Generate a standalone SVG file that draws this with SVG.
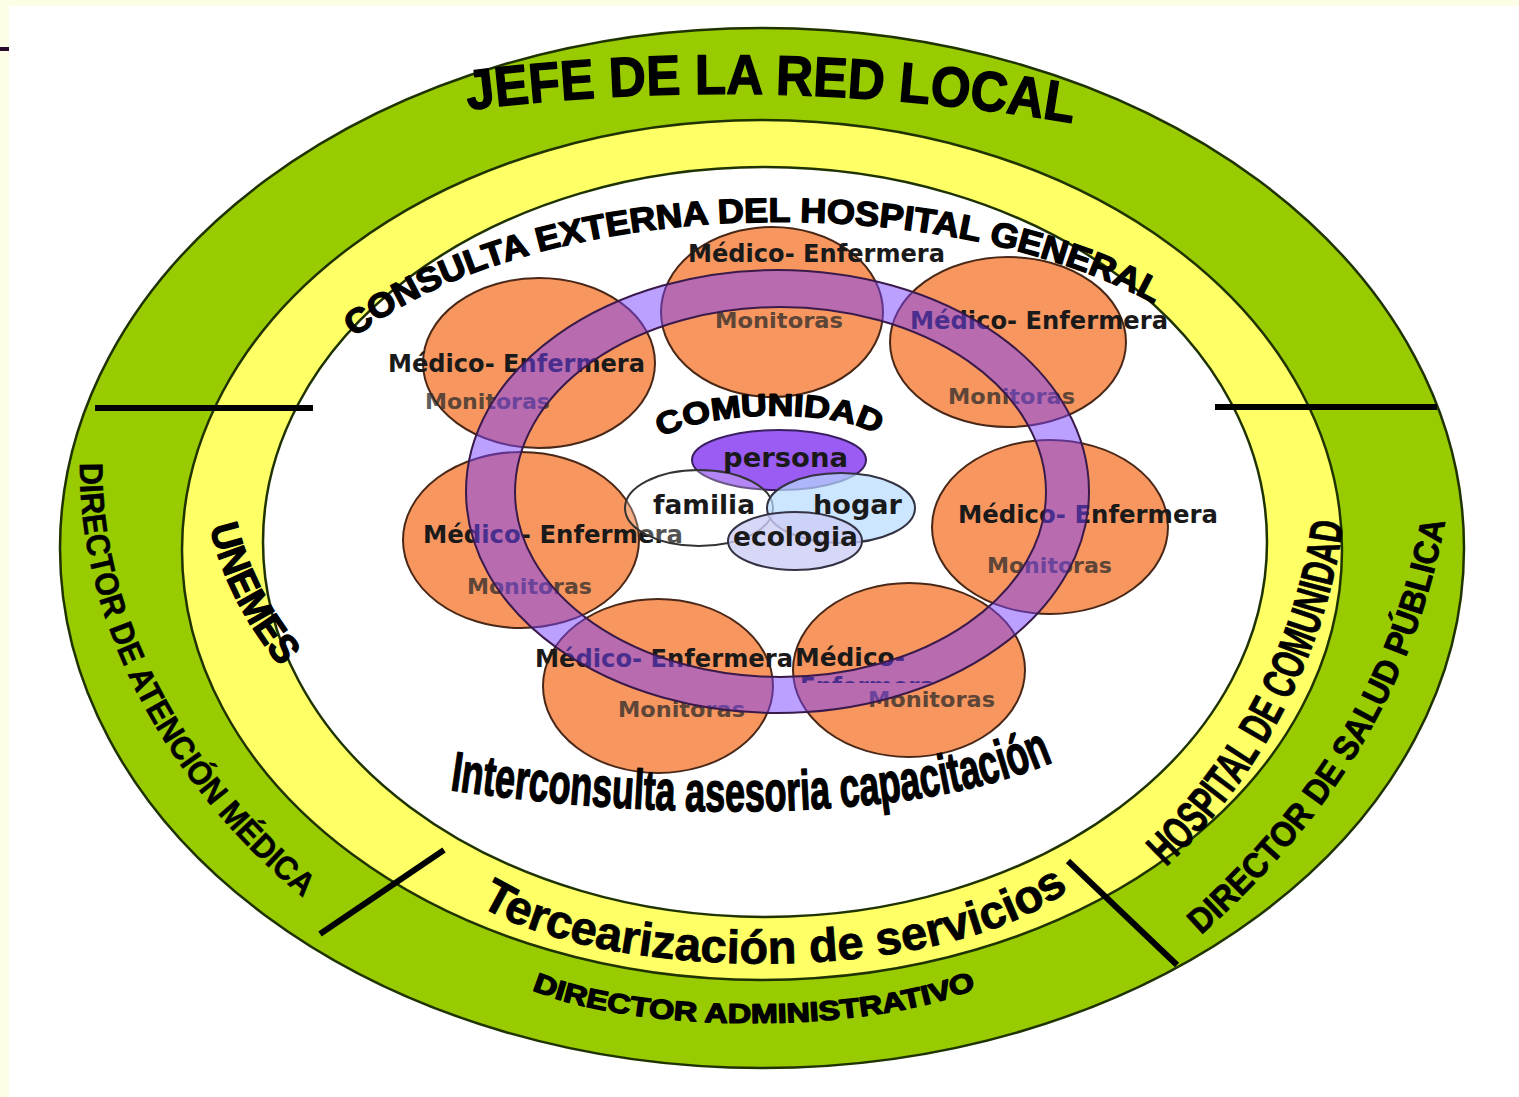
<svg xmlns="http://www.w3.org/2000/svg" width="1519" height="1097" viewBox="0 0 1519 1097">
<style>
.edge{stroke:#1f3300;stroke-width:2.5}
.lbl{font-family:"Liberation Sans",Arial,sans-serif;font-weight:bold;fill:#000}
.heavy{stroke:#000;stroke-width:1.4;stroke-linejoin:round}
.div{stroke:#000;stroke-width:6;stroke-linecap:butt}
.circ{fill:#f7965f;stroke:#4a2818;stroke-width:2}
.me{font-family:"DejaVu Sans","Liberation Sans",sans-serif;font-weight:bold;font-size:24px;fill:#1a1a1a}
.mo{font-family:"DejaVu Sans","Liberation Sans",sans-serif;font-weight:bold;font-size:22px;fill:#2a2a2a;opacity:.75}
.cen{font-family:"DejaVu Sans","Liberation Sans",sans-serif;font-weight:bold;font-size:26px;fill:#1a1a1a}
</style>
<defs>
<path id="p-jefe" d="M 468 110 Q 772 72 1078 124"/>
<path id="p-consulta" d="M 350 341.5 A 500 244 0 0 1 1165 310"/>
<path id="p-dam" d="M 80 455 C 75 600 150 775 312 905"/>
<path id="p-unemes" d="M 210 527 C 222 580 248 630 292 680"/>
<path id="p-hdc" d="M 1163 870 C 1260 780 1330 650 1345 510"/>
<path id="p-dsp" d="M 1198 938 C 1325 825 1420 690 1449 498"/>
<path id="p-adm" d="M 532 990 C 640 1035 880 1035 986 984"/>
<path id="p-terc" d="M 476 903 C 600 984 950 990 1078 883"/>
<path id="p-inter" d="M 450 790 C 620 815 900 832 1062 758"/>
<path id="p-com" d="M 662 438 C 700 410 850 405 888 442"/>
<clipPath id="clipEnf"><rect x="790" y="660" width="160" height="23"/></clipPath>
</defs>

<rect x="0" y="0" width="1519" height="1097" fill="#fdfde6"/>
<rect x="9" y="6" width="1510" height="1091" fill="#ffffff"/>
<rect x="0" y="47" width="9" height="4" fill="#2a0830"/>

<g id="rings">
<ellipse id="ring-green" cx="762" cy="548" rx="702" ry="520" fill="#99cc00" class="edge"/>
<ellipse id="ring-yellow" cx="762" cy="550" rx="580" ry="430" fill="#ffff66" class="edge"/>
<ellipse id="ring-white" cx="765" cy="542" rx="502" ry="375" fill="#ffffff" class="edge"/>
</g>

<g id="dividers">
<line class="div" x1="95" y1="408" x2="313" y2="408"/>
<line class="div" x1="1215" y1="407" x2="1437" y2="407"/>
<line class="div" x1="320" y1="934" x2="444" y2="850"/>
<line class="div" x1="1068" y1="861" x2="1177" y2="965"/>
</g>

<g id="outer-labels">
<g id="jefe"><text class="lbl heavy" font-size="56" stroke-width="2.4"><textPath href="#p-jefe" textLength="607" lengthAdjust="spacingAndGlyphs">JEFE DE LA RED LOCAL</textPath></text></g>
<g id="dir-atencion"><text class="lbl" font-size="33" stroke="#000" stroke-width="0.5"><textPath href="#p-dam" startOffset="8" textLength="505" lengthAdjust="spacingAndGlyphs">DIRECTOR DE ATENCIÓN MÉDICA</textPath></text></g>
<g id="unemes"><text class="lbl heavy" font-size="40" stroke-width="1"><textPath href="#p-unemes" textLength="158" lengthAdjust="spacingAndGlyphs">UNEMES</textPath></text></g>
<g id="hosp-comunidad"><text class="lbl" font-size="46" stroke="#000" stroke-width="0.8"><textPath href="#p-hdc" startOffset="4" textLength="395" lengthAdjust="spacingAndGlyphs">HOSPITAL DE COMUNIDAD</textPath></text></g>
<g id="dir-salud"><text class="lbl" font-size="35" stroke="#000" stroke-width="0.8"><textPath href="#p-dsp" startOffset="4" textLength="490" lengthAdjust="spacingAndGlyphs">DIRECTOR DE SALUD PÚBLICA</textPath></text></g>
<g id="dir-admin"><text class="lbl heavy" font-size="27" stroke-width="1.2"><textPath href="#p-adm" textLength="452" lengthAdjust="spacingAndGlyphs">DIRECTOR ADMINISTRATIVO</textPath></text></g>
<g id="tercearizacion"><text class="lbl" font-size="47" stroke="#000" stroke-width="0.8"><textPath href="#p-terc" startOffset="4" textLength="612" lengthAdjust="spacingAndGlyphs">Tercearización de servicios</textPath></text></g>
</g>

<g id="teams">
<g id="team-top">
<ellipse class="circ" cx="772" cy="312" rx="111" ry="85"/>
<text class="me" x="688" y="262" textLength="257" lengthAdjust="spacingAndGlyphs">Médico- Enfermera</text>
<text class="mo" x="715" y="328" textLength="128" lengthAdjust="spacingAndGlyphs">Monitoras</text>
</g>
<g id="team-left-top">
<ellipse class="circ" cx="539" cy="363" rx="116" ry="85"/>
<text class="me" x="388" y="372" textLength="257" lengthAdjust="spacingAndGlyphs">Médico- Enfermera</text>
<text class="mo" x="425" y="409" textLength="125" lengthAdjust="spacingAndGlyphs">Monitoras</text>
</g>
<g id="team-right-top">
<ellipse class="circ" cx="1008" cy="342" rx="118" ry="85"/>
<text class="me" x="910" y="329" textLength="258" lengthAdjust="spacingAndGlyphs">Médico- Enfermera</text>
<text class="mo" x="948" y="404" textLength="127" lengthAdjust="spacingAndGlyphs">Monitoras</text>
</g>
<g id="team-left-mid">
<ellipse class="circ" cx="521" cy="540" rx="118" ry="88"/>
<text class="me" x="423" y="543" textLength="260" lengthAdjust="spacingAndGlyphs">Médico- Enfermera</text>
<text class="mo" x="467" y="594" textLength="125" lengthAdjust="spacingAndGlyphs">Monitoras</text>
</g>
<g id="team-right-mid">
<ellipse class="circ" cx="1050" cy="527" rx="118" ry="87"/>
<text class="me" x="958" y="523" textLength="260" lengthAdjust="spacingAndGlyphs">Médico- Enfermera</text>
<text class="mo" x="987" y="573" textLength="125" lengthAdjust="spacingAndGlyphs">Monitoras</text>
</g>
<g id="team-bottom-left">
<ellipse class="circ" cx="658" cy="686" rx="115" ry="87"/>
<text class="me" x="535" y="667" textLength="258" lengthAdjust="spacingAndGlyphs">Médico- Enfermera</text>
<text class="mo" x="618" y="717" textLength="127" lengthAdjust="spacingAndGlyphs">Monitoras</text>
</g>
<g id="team-bottom-right">
<ellipse class="circ" cx="909" cy="670" rx="116" ry="87"/>
<text class="me" x="795" y="666" textLength="110" lengthAdjust="spacingAndGlyphs">Médico-</text>
<text class="me" x="800" y="695" textLength="135" lengthAdjust="spacingAndGlyphs" clip-path="url(#clipEnf)">Enfermera</text>
<text class="mo" x="868" y="707" textLength="127" lengthAdjust="spacingAndGlyphs">Monitoras</text>
</g>
</g>

<g id="purple-ring">
<path fill="#7a42ff" fill-opacity="0.5" fill-rule="evenodd" stroke="#3a1a4a" stroke-width="2" d="M 466 491.5 A 311.5 221.5 0 1 0 1089 491.5 A 311.5 221.5 0 1 0 466 491.5 Z M 515 492 A 265.5 185 0 1 0 1046 492 A 265.5 185 0 1 0 515 492 Z"/>
</g>

<g id="comunidad">
<ellipse id="persona" cx="779" cy="460" rx="87" ry="30" fill="#9a5cf2" stroke="#3a2060" stroke-width="2"/>
<ellipse id="familia" cx="699" cy="508" rx="74" ry="38" fill="#ffffff" fill-opacity="0.25" stroke="#333" stroke-width="2"/>
<ellipse id="hogar" cx="841" cy="508" rx="74" ry="35" fill="#b8dcff" fill-opacity="0.7" stroke="#334" stroke-width="2"/>
<ellipse id="ecologia" cx="795" cy="541" rx="67" ry="29" fill="#cdcdf6" fill-opacity="0.8" stroke="#334" stroke-width="2"/>
<text class="lbl heavy" font-size="31" stroke-width="1.3"><textPath href="#p-com" textLength="222" lengthAdjust="spacingAndGlyphs">COMUNIDAD</textPath></text>
<text class="cen" x="723" y="467" textLength="125" lengthAdjust="spacingAndGlyphs" fill="#2e1a48">persona</text>
<text class="cen" x="653" y="514" textLength="102" lengthAdjust="spacingAndGlyphs">familia</text>
<text class="cen" x="813" y="514" textLength="89" lengthAdjust="spacingAndGlyphs">hogar</text>
<text class="cen" x="733" y="546" textLength="125" lengthAdjust="spacingAndGlyphs">ecologia</text>
</g>

<g id="inner-labels">
<g id="consulta"><text class="lbl heavy" font-size="34" stroke-width="1.5"><textPath href="#p-consulta" startOffset="6" textLength="835" lengthAdjust="spacingAndGlyphs">CONSULTA EXTERNA DEL HOSPITAL GENERAL</textPath></text></g>
<g id="interconsulta"><text class="lbl heavy" font-size="56" stroke-width="1.4"><textPath href="#p-inter" textLength="610" lengthAdjust="spacingAndGlyphs">Interconsulta asesoria capacitación</textPath></text></g>
</g>
</svg>
